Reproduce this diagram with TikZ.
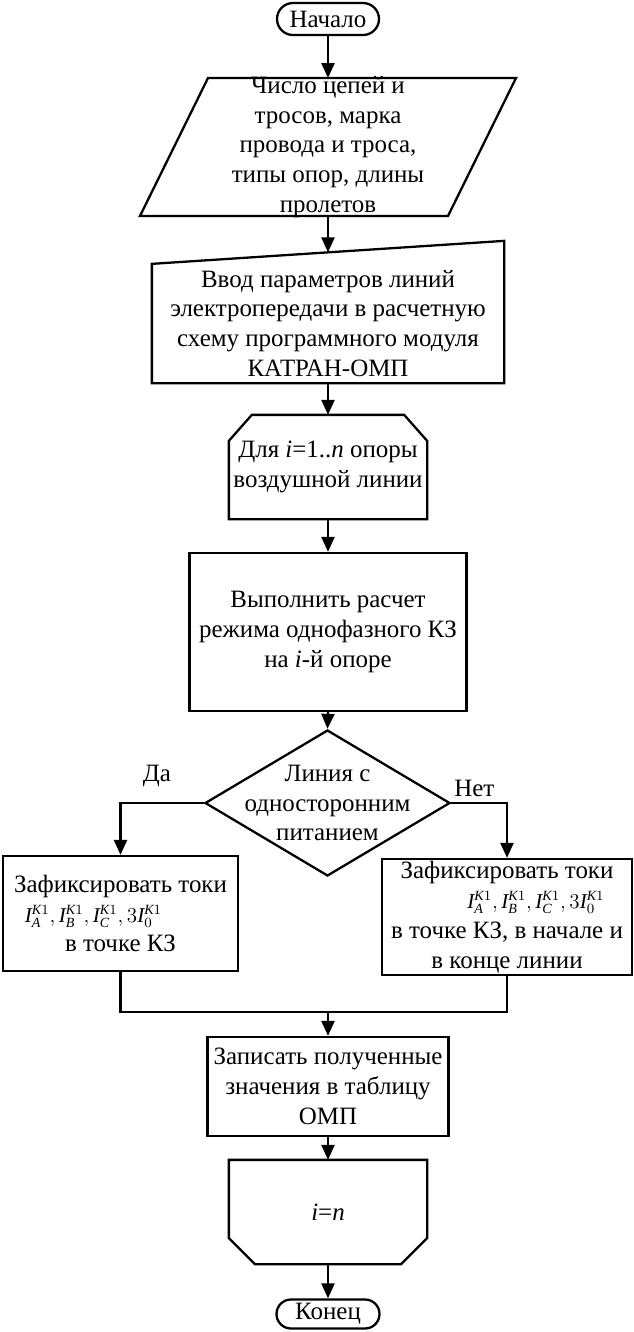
\documentclass[tikz,border=0pt]{standalone}
\usepackage{fontspec}
\setmainfont{Liberation Serif}
\usetikzlibrary{arrows.meta,calc,shapes.geometric,shapes.misc}
\newcommand{\blockfont}{\fontsize{14.2}{17}\selectfont}
\newcommand{\curfont}{\fontsize{12}{17}\selectfont}
\newcommand{\cur}[1]{\mathit{I}_{#1}^{\mathit{K}1}}
\tikzset{
    blk/.style={font=\blockfont,align=center,inner sep=0pt,line width=1.3pt},
    ln/.style={line width=1.3pt},
    arr/.style={line width=1.3pt,-{Triangle[length=0.3cm,width=0.26cm]}},
}
\begin{document}
\begin{tikzpicture}
                \useasboundingbox (0,0) rectangle (12.68,-26.64);
                %% terminals
                \node[blk,anchor=center,draw,rounded rectangle,minimum width=2.04cm,minimum height=0.64cm] (start) at (6.56,-0.38) {Начало};
                \node[blk,anchor=center,draw,rounded rectangle,minimum width=2.06cm,minimum height=0.58cm] (stop) at (6.56,-26.28) {Конец};
                %% input data
                \node[blk,anchor=center] (data) at (6.56,-2.94) {Число цепей и\\тросов, марка\\провода и троса,\\типы опор, длины\\пролетов};
                \draw[ln] ($(data)+(-3.76,-1.38)$) -- ($(data)+(-2.4,1.38)$) -- ($(data)+(3.76,1.38)$) -- ($(data)+(2.4,-1.38)$) -- cycle;
                \coordinate (datatop) at ($(data)+(0,1.38)$);
                \coordinate (databot) at ($(data)+(0,-1.38)$);
                %% manual input
                \node[blk,anchor=center,minimum width=7cm,minimum height=2.34cm] (param) at (6.56,-6.47) {Ввод параметров линий\\электропередачи в расчетную\\схему программного модуля\\КАТРАН-ОМП};
                \draw[ln] (param.south west) -- (param.north west) -- ([yshift=0.46cm]param.north east) -- (param.south east) -- cycle;
                %% loop start
                \node[blk,anchor=center,minimum width=3.92cm,minimum height=2.04cm] (loopA) at (6.56,-9.34) {Для \textit{i}=1..\textit{n} опоры\\воздушной линии};
                \draw[ln] ([xshift=0.46cm]loopA.north west) -- ([xshift=-0.46cm]loopA.north east) -- ([yshift=-0.52cm]loopA.north east) -- (loopA.south east) -- (loopA.south west) -- ([yshift=-0.52cm]loopA.north west) -- cycle;
                %% calculation
                \node[blk,anchor=center,draw,minimum width=5.54cm,minimum height=3.16cm] (solve) at (6.56,-12.64) {Выполнить расчет\\режима однофазного КЗ\\на \textit{i}-й опоре};
                %% condition
                \node[blk,anchor=center,draw,diamond,minimum width=4.9cm,minimum height=2.92cm] (cond) at (6.55,-16.06) {};
                \node[blk,anchor=center] at (cond) {Линия с\\односторонним\\питанием};
                \node[blk,anchor=south] at (3.14,-15.76) {Да};
                \node[blk,anchor=south west] at ([xshift=0.04cm,yshift=0.1cm]cond.east) {Нет};
                %% branches
                \node[blk,anchor=center,draw,minimum width=4.7cm,minimum height=2.3cm] (fixL) at (2.41,-18.27) {Зафиксировать токи\\{\curfont $\cur{\mathit{A}}, \cur{\mathit{B}}, \cur{\mathit{C}}, 3\cur{0}$}\hspace*{1.08cm}\mbox{}\\в точке КЗ};
                \node[blk,anchor=center,draw,minimum width=5cm,minimum height=2.32cm] (fixR) at (10.14,-18.34) {Зафиксировать токи\\\hspace*{1.16cm}{\curfont $\cur{\mathit{A}}, \cur{\mathit{B}}, \cur{\mathit{C}}, 3\cur{0}$}\\в точке КЗ, в начале и\\в конце линии};
                %% result
                \node[blk,anchor=center,draw,minimum width=4.82cm,minimum height=1.98cm] (write) at (6.56,-21.73) {Записать полученные\\значения в таблицу\\ОМП};
                %% loop end
                \node[blk,anchor=center,minimum width=3.92cm,minimum height=2.04cm] (loopB) at (6.56,-24.24) {\textit{i}=\textit{n}};
                \draw[ln] (loopB.north west) -- (loopB.north east) -- ([yshift=0.52cm]loopB.south east) -- ([xshift=-0.52cm]loopB.south east) -- ([xshift=0.52cm]loopB.south west) -- ([yshift=0.52cm]loopB.south west) -- cycle;
                %% connectors
                \coordinate (join) at (6.56,-20.24);
                \draw[arr] (start.south) -- (datatop);
                \draw[arr] (databot) -- ([yshift=0.23cm]param.north);
                \draw[arr] (param.south) -- (loopA.north);
                \draw[arr] (loopA.south) -- (solve.north);
                \draw[arr] (solve.south) -- (cond.north);
                \draw[arr] (cond.west) -| (fixL.north);
                \draw[arr] (cond.east) -| (fixR.north);
                \draw[ln] (fixL.south) |- (join) -| (fixR.south);
                \draw[arr] (join) -- (write.north);
                \draw[arr] (write.south) -- (loopB.north);
                \draw[arr] (loopB.south) -- (stop.north);
            \end{tikzpicture}
\end{document}
